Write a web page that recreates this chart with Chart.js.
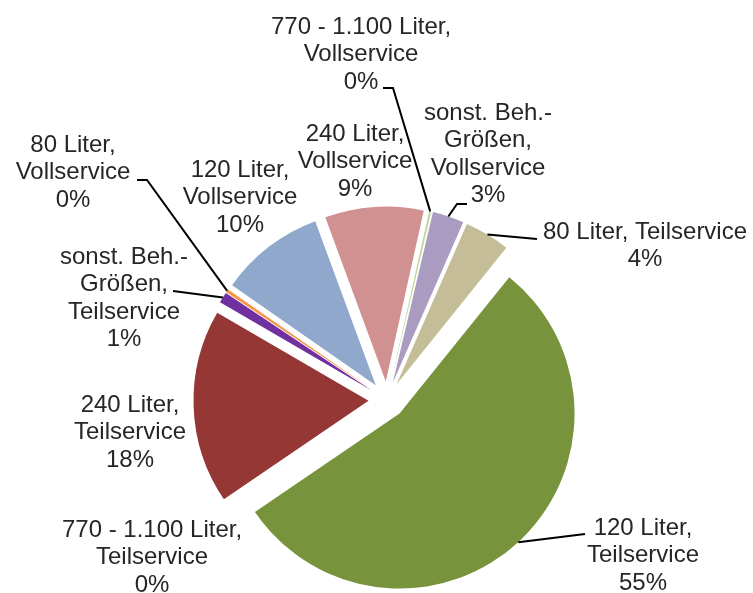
<!DOCTYPE html>
<html>
<head>
<meta charset="utf-8">
<script src="https://cdn.jsdelivr.net/npm/chart.js@4.4.1/dist/chart.umd.min.js"></script>
<style>
  html, body { margin: 0; padding: 0; background: #fff; }
  canvas { display: block; }
</style>
</head>
<body>
<canvas id="pieChart" width="753" height="593"></canvas>
<script>
// slice names, in data order (clockwise from first slice)
const categories = [
  '80 Liter, Teilservice',
  '120 Liter,\nTeilservice',
  '240 Liter,\nTeilservice',
  '770 - 1.100 Liter,\nTeilservice',
  'sonst. Beh.-\nGrößen,\nTeilservice',
  '80 Liter,\nVollservice',
  '120 Liter,\nVollservice',
  '240 Liter,\nVollservice',
  '770 - 1.100 Liter,\nVollservice',
  'sonst. Beh.-\nGrößen,\nVollservice'
];
// share in percent
const shares = [4.2, 54.7, 17.9, 0, 1.0, 0.3, 9.7, 9.1, 0.2, 2.9];

const sliceColors = [
  '#C4BD97', '#77933C', '#953735', '#31859C', '#7030A0',
  '#F79646', '#8FA8CB', '#D09190', '#C3D69B', '#A99CC0'
];

// label layout: centre x, first-line y, leader line start points
const labelX = [645, 643, 130, 152, 124, 73, 240, 355, 361, 488];
const labelY = [232, 528, 405, 530, 257, 145, 170, 134, 27, 113];
const leaderFrom = [
  [[537, 239]],
  [[585, 534]],
  null,
  null,
  [[173, 291]],
  [[137, 180], [147, 180]],
  null,
  null,
  [[383, 88], [393, 88]],
  [[467, 204], [457, 204]]
];
const explodeDist = 18.5;
const lineHeight = 27.5;
const labelFont = '24px "Liberation Sans", Arial, sans-serif';

// draw every slice pulled out along its middle angle
const explodePlugin = {
  id: 'explode',
  beforeDatasetDraw(chart, args) {
    const ctx = chart.ctx;
    args.meta.data.forEach(arc => {
      const mid = (arc.startAngle + arc.endAngle) / 2;
      ctx.save();
      ctx.translate(Math.cos(mid) * explodeDist, Math.sin(mid) * explodeDist);
      arc.draw(ctx);
      ctx.restore();
    });
    return false;
  }
};

// data labels with leader lines
const labelPlugin = {
  id: 'pieLabels',
  afterDatasetsDraw(chart) {
    const ctx = chart.ctx;
    const meta = chart.getDatasetMeta(0);
    const total = shares.reduce((a, b) => a + b, 0);
    ctx.save();
    meta.data.forEach((arc, i) => {
      const pts = leaderFrom[i];
      if (pts) {
        const mid = (arc.startAngle + arc.endAngle) / 2;
        const r = arc.outerRadius + explodeDist;
        ctx.beginPath();
        ctx.moveTo(pts[0][0], pts[0][1]);
        pts.slice(1).forEach(p => ctx.lineTo(p[0], p[1]));
        ctx.lineTo(arc.x + Math.cos(mid) * r, arc.y + Math.sin(mid) * r);
        ctx.strokeStyle = '#000';
        ctx.lineWidth = 2;
        ctx.stroke();
      }
      const lines = categories[i].split('\n');
      lines.push(Math.round(shares[i] / total * 100) + '%');
      ctx.font = labelFont;
      ctx.fillStyle = '#262626';
      ctx.textAlign = 'center';
      ctx.textBaseline = 'middle';
      lines.forEach((t, k) => ctx.fillText(t, labelX[i], labelY[i] + k * lineHeight));
    });
    ctx.restore();
  }
};

new Chart(document.getElementById('pieChart').getContext('2d'), {
  type: 'pie',
  data: {
    labels: categories.map(c => c.replace(/\n/g, ' ')),
    datasets: [{
      data: shares,
      backgroundColor: sliceColors,
      borderWidth: 0
    }]
  },
  options: {
    responsive: false,
    animation: false,
    rotation: 23.7,
    radius: 175,
    layout: { padding: { left: 21, right: 0, top: 207, bottom: 0 } },
    plugins: {
      legend: { display: false },
      tooltip: { enabled: false }
    }
  },
  plugins: [explodePlugin, labelPlugin]
});
</script>
</body>
</html>
